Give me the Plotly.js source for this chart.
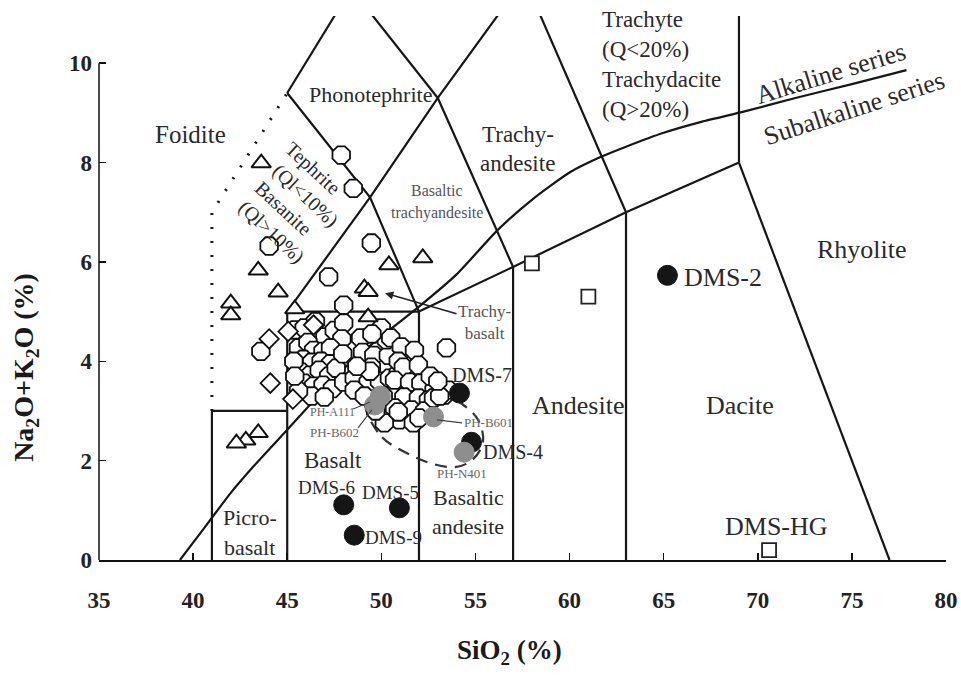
<!DOCTYPE html>
<html><head><meta charset="utf-8">
<script src="https://cdn.plot.ly/plotly-3.0.1.min.js"></script>
<style>html,body{margin:0;padding:0;background:#fff}#chart{width:961px;height:679px}</style>
</head><body><div id="chart"></div>
<script>
// ---- TAS field boundaries (SiO2, Na2O+K2O), segments separated by null ----
const boundarySiO2 = [41,41,null, 41,45,null, 45,45,null, 45,52,null, 52,52,null, 57,57,null, 63,63,null,
  52,57,63,69,null, 69,77,null, 69,69,null, 45,49.4,53,57.6,null, 45,49.4,52,null, 53,57,null,
  57.6,63,null, 45,48.4,null, 48.4,53];
const boundaryAlk = [0,3,null, 3,3,null, 0,5,null, 5,5,null, 0,5,null, 0,5.9,null, 0,7,null,
  5,5.9,7,8,null, 8,0,null, 8,13,null, 5,7.3,9.3,11.7,null, 9.4,7.3,5,null, 9.3,5.9,null,
  11.7,7,null, 9.4,11.5,null, 11.5,9.3];
const foiditeSiO2 = [41,41,45];
const foiditeAlk  = [3,7,9.4];
// Irvine & Baragar alkaline / subalkaline divide
const alkDivSiO2 = [39.3,40,41,42,43.2,45,48,50,52,54,56.2,58,60,61.7,63,65,67,69.3,72,75,77.9];
const alkDivAlk  = [0,0.35,0.85,1.35,1.88,2.62,3.85,4.5,5.1,5.75,6.65,7.25,7.8,8.12,8.32,8.6,8.82,9.03,9.3,9.58,9.86];
// dashed envelope
const envSiO2 = [49.19,50.04,51.26,52.59,53.92,54.82,55.4,55.14,54.29,53.12,51.53,49.93,49.19,49.19];
const envAlk  = [3.02,2.47,2.17,1.95,1.87,2.01,2.37,2.82,3.14,3.38,3.58,3.56,3.32,3.02];

// ---- samples ----
const hexSiO2 = [47.87,48.51,44.04,49.47,47.2,48.0,53.46,43.6,
  45.4,45.9,46.5,47.0,47.5,48.0,47.9,45.6,46.1,46.4,46.9,47.3,45.85,46.3,46.8,47.3,45.75,46.2,46.7,47.2,47.6,
  45.9,46.4,46.9,47.4,48.0,46.3,46.97,45.6,45.35,45.4,47.95,48.9,49.0,49.6,50.37,49.47,50.27,50.0,49.5,
  48.56,49.3,48.56,49.1,49.9,50.43,50.9,50.5,51.06,50.9,51.76,51.17,51.97,50.7,51.5,52.1,52.8,53.35,51.2,
  51.97,52.5,50.7,51.6,52.3,50.96,51.7,53.56,50.16,50.9,52.0,52.77,53.1,49.7,49.4,48.7,52.6,53.0,50.1];
const hexAlk = [8.15,7.48,6.32,6.38,5.7,5.13,4.27,4.2,
  4.63,4.67,4.8,4.49,4.62,4.77,4.45,4.27,4.38,4.22,4.2,4.27,4.04,3.98,4.0,3.95,3.78,3.72,3.82,3.7,3.86,
  3.56,3.5,3.52,3.45,3.58,3.3,3.28,3.4,4.0,3.7,4.15,4.47,4.18,4.12,4.12,3.88,4.43,4.67,4.55,
  3.66,3.58,3.42,3.3,3.6,3.66,3.76,4.47,4.29,4.0,4.22,3.88,3.92,3.62,3.58,3.56,3.42,3.32,3.28,
  3.26,3.22,3.06,3.02,3.0,2.82,2.76,3.42,2.76,2.98,2.86,3.26,3.3,3.0,3.8,3.9,3.7,3.6,3.3];
const triSiO2 = [43.62,43.46,44.52,42.0,42.0,43.46,42.8,42.3,50.4,52.2,49.1,49.3,49.3,45.4];
const triAlk  = [7.99,5.83,5.39,5.17,4.93,2.56,2.41,2.35,5.94,6.08,5.47,5.4,4.89,5.05];
const diaSiO2 = [44.04,44.1,45.05,45.3,46.4];
const diaAlk  = [4.45,3.56,4.6,3.24,4.73];
const sqSiO2 = [58.0,61.0,70.6];
const sqAlk  = [5.97,5.3,0.2];
const dmsSiO2 = [65.2,54.15,54.79,48.0,50.96,48.56];
const dmsAlk  = [5.73,3.36,2.37,1.11,1.05,0.5];
const phSiO2 = [49.95,49.65,52.77,54.4];
const phAlk  = [3.3,3.12,2.88,2.17];

const xTicks = [35,40,45,50,55,60,65,70,75,80];
const yTicks = [0,2,4,6,8,10];

const SERIF = '"Liberation Serif","Times New Roman",serif';
const Y_TOP = 10.95;

const traces = [
  {x: boundarySiO2, y: boundaryAlk, mode:'lines', line:{color:'#161616', width:2.2}, connectgaps:false, hoverinfo:'skip'},
  {x: foiditeSiO2, y: foiditeAlk, mode:'lines', line:{color:'#161616', width:3, dash:'2px,12px'}, hoverinfo:'skip'},
  {x: alkDivSiO2, y: alkDivAlk, mode:'lines', line:{color:'#161616', width:2.2, shape:'spline', smoothing:0.6}, hoverinfo:'skip'},
  {x: envSiO2, y: envAlk, mode:'lines', line:{color:'#333', width:2.2, dash:'12px,8px', shape:'spline', smoothing:1}, hoverinfo:'skip'},
  {x: hexSiO2, y: hexAlk, mode:'markers', marker:{symbol:'octagon', size:19, color:'#fff', line:{color:'#111', width:1.8}}},
  {x: triSiO2, y: triAlk, mode:'markers', marker:{symbol:'triangle-up', size:17, color:'#fff', line:{color:'#111', width:2}}},
  {x: diaSiO2, y: diaAlk, mode:'markers', marker:{symbol:'diamond', size:15, color:'#fff', line:{color:'#111', width:1.8}}},
  {x: sqSiO2, y: sqAlk, mode:'markers', marker:{symbol:'square', size:14, color:'#fff', line:{color:'#222', width:1.8}}},
  {x: dmsSiO2, y: dmsAlk, mode:'markers', marker:{symbol:'circle', size:20, color:'#151515', line:{color:'#151515', width:1}}},
  {x: phSiO2, y: phAlk, mode:'markers', marker:{symbol:'circle', size:20, color:'#8e8e8e', line:{color:'#8e8e8e', width:1}}}
];

function lbl(x, y, text, size, opts) {
  return Object.assign({x:x, y:y, xref:'x', yref:'y', text:text, showarrow:false,
    font:{family:SERIF, size:size, color:'#2a2a2a'}}, opts || {});
}
const annotations = [
  lbl(39.84, 8.57, 'Foidite', 25),
  lbl(49.4, 9.36, 'Phonotephrite', 22),
  lbl(46.37, 7.89, 'Tephrite', 20, {textangle:43}),
  lbl(45.95, 7.34, '(Ql&lt;10%)', 20, {textangle:43}),
  lbl(44.78, 7.08, 'Basanite', 20, {textangle:43}),
  lbl(44.19, 6.60, '(Ql&gt;10%)', 20, {textangle:43}),
  lbl(52.96, 7.44, 'Basaltic', 16, {font:{family:SERIF, size:16, color:'#555'}}),
  lbl(52.96, 6.98, 'trachyandesite', 16, {font:{family:SERIF, size:16, color:'#555'}}),
  lbl(57.26, 8.57, 'Trachy-', 23),
  lbl(57.26, 7.99, 'andesite', 23),
  lbl(61.62, 9.97, 'Trachyte<br>(Q&lt;20%)<br>Trachydacite<br>(Q&gt;20%)', 23, {xanchor:'left', align:'left'}),
  lbl(73.84, 9.80, 'Alkaline series', 26, {textangle:-17}),
  lbl(75.1, 9.09, 'Subalkaline series', 26, {textangle:-18}),
  lbl(75.54, 6.24, 'Rhyolite', 26),
  lbl(69.06, 3.12, 'Dacite', 26),
  lbl(60.45, 3.12, 'Andesite', 26),
  lbl(66.0, 5.69, 'DMS-2', 26, {xanchor:'left'}),
  lbl(70.97, 0.68, 'DMS-HG', 26),
  lbl(47.43, 2.01, 'Basalt', 23),
  lbl(54.61, 1.25, 'Basaltic', 22),
  lbl(54.61, 0.68, 'andesite', 22),
  lbl(43.02, 0.85, 'Picro-', 22),
  lbl(43.02, 0.26, 'basalt', 22),
  lbl(55.35, 3.72, 'DMS-7', 20),
  lbl(57.0, 2.17, 'DMS-4', 20),
  lbl(47.06, 1.45, 'DMS-6', 19),
  lbl(50.5, 1.35, 'DMS-5', 19),
  lbl(50.62, 0.46, 'DMS-9', 19),
  lbl(47.38, 2.98, 'PH-A111', 12, {font:{family:SERIF, size:12, color:'#666'}}),
  lbl(47.49, 2.56, 'PH-B602', 13, {font:{family:SERIF, size:13, color:'#666'}}),
  lbl(55.67, 2.76, 'PH-B601', 13, {font:{family:SERIF, size:13, color:'#666'}}),
  lbl(54.29, 1.75, 'PH-N401', 13, {font:{family:SERIF, size:13, color:'#666'}}),
  {x:50.2, y:5.37, xref:'x', yref:'y', ax:55.51, ay:4.79, axref:'x', ayref:'y',
    text:'Trachy-<br>basalt', showarrow:true, arrowhead:2, arrowsize:1.1, arrowwidth:1.5, arrowcolor:'#222', standoff:0,
    font:{family:SERIF, size:17, color:'#555'}},
  {x:-0.0862, y:0.355, xref:'paper', yref:'paper', xanchor:'center', yanchor:'middle',
    text:'Na<sub>2</sub>O+K<sub>2</sub>O (%)', showarrow:false,
    textangle:-90, font:{family:SERIF, size:28, color:'#1a1a1a', weight:'bold'}},
  {x:0.485, y:-0.169, xref:'paper', yref:'paper', xanchor:'center', yanchor:'middle',
    text:'SiO<sub>2</sub> (%)', showarrow:false,
    font:{family:SERIF, size:27, color:'#1a1a1a', weight:'bold'}}
];

const leader = (x0,y0,x1,y1) => ({type:'line', xref:'x', yref:'y', x0:x0, y0:y0, x1:x1, y1:y1,
  line:{color:'#444', width:1.2}, layer:'above'});
const shapes = [
  {type:'line', xref:'paper', yref:'paper', x0:0, x1:0, y0:0, y1:10/Y_TOP, line:{color:'#111', width:1.5}},
  leader(48.5,3.04,49.4,3.18),
  leader(48.76,2.66,49.5,3.02),
  leader(52.96,2.82,54.29,2.76)
];

const layout = {
  width:961, height:679,
  margin:{l:99, r:15, t:16, b:119},
  paper_bgcolor:'#fff', plot_bgcolor:'#fff',
  showlegend:false,
  xaxis:{range:[35,80], showline:true, linecolor:'#111', linewidth:1.5, mirror:false,
    ticks:'inside', ticklen:7, tickwidth:1.5, tickcolor:'#111',
    tickvals:xTicks, ticktext:xTicks.map(String), showgrid:false, zeroline:false,
    tickfont:{family:SERIF, size:23, color:'#222', weight:'bold'}, ticklabelstandoff:19},
  yaxis:{range:[0,Y_TOP], showline:false, ticks:'inside', ticklen:7, tickwidth:1.5, tickcolor:'#111',
    tickvals:yTicks, ticktext:yTicks.map(String), showgrid:false, zeroline:false,
    tickfont:{family:SERIF, size:23, color:'#222', weight:'bold'}, ticklabelstandoff:6},
  annotations:annotations,
  shapes:shapes
};

Plotly.newPlot('chart', traces, layout, {staticPlot:true, displayModeBar:false});
</script></body></html>
